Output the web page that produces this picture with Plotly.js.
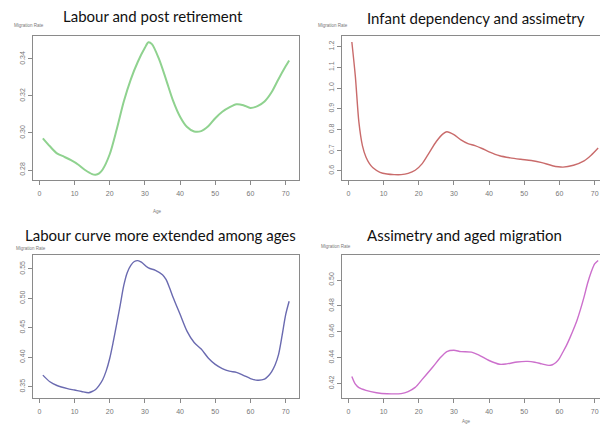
<!DOCTYPE html>
<html>
<head>
<meta charset="utf-8">
<script src="https://cdn.plot.ly/plotly-3.0.1.min.js"></script>
<style>
html,body{margin:0;padding:0;overflow:hidden;background:#fff;width:600px;height:427px;}
#chart{width:610px;height:427px;}
</style>
</head>
<body>
<div id="chart"></div>
<script>
// Panel titles
const titles = ["Labour and post retirement", "Infant dependency and assimetry",
                "Labour curve more extended among ages", "Assimetry and aged migration"];
const yLabel = "Migration Rate";
const xLabel = "Age";

// X ticks
const xTicks = [0, 10, 20, 30, 40, 50, 60, 70];

// Panel 1: Labour and post retirement
const ages1 = [1,3,5,7,9,11,13,15,16,17,18,20,22,24,26,28,30,31,32,34,36,38,40,42,44,46,48,50,52,54,56,58,60,62,64,66,68,70,71];
const rate1 = [0.2971,0.2928,0.2890,0.2872,0.2853,0.2830,0.2800,0.2778,0.2775,0.2782,0.2803,0.2885,0.3020,0.3170,0.3290,0.3385,0.3460,0.3490,0.3480,0.3400,0.3290,0.3175,0.3088,0.3032,0.3008,0.3010,0.3036,0.3080,0.3115,0.3138,0.3155,0.3150,0.3135,0.3145,0.3170,0.3220,0.3292,0.3360,0.3392];
const yTicks1 = [0.28, 0.30, 0.32, 0.34];
const yTickText1 = ["0.28", "0.30", "0.32", "0.34"];

// Panel 2: Infant dependency and assimetry
const ages2 = [1,2,3,4,5,6,7,9,11,13,15,17,19,21,23,25,27,28,30,32,34,36,38,40,43,46,49,52,55,58,61,64,67,69,71];
const rate2 = [1.222,1.055,0.835,0.722,0.667,0.635,0.615,0.593,0.585,0.582,0.582,0.588,0.603,0.635,0.688,0.742,0.780,0.789,0.775,0.750,0.732,0.722,0.708,0.692,0.673,0.663,0.656,0.650,0.640,0.625,0.618,0.627,0.648,0.675,0.710];
const yTicks2 = [0.6, 0.7, 0.8, 0.9, 1.0, 1.1, 1.2];
const yTickText2 = ["0.6", "0.7", "0.8", "0.9", "1.0", "1.1", "1.2"];

// Panel 3: Labour curve more extended among ages
const ages3 = [1,3,5,8,10,12,14,15,16,17,18,19,20,21,22,23,24,25,26,27,28,29,31,33,35,36,37,38,40,42,44,46,48,50,52,54,56,58,60,62,64,65,66,67,68,69,70,71];
const rate3 = [0.3698,0.3585,0.3522,0.3468,0.3445,0.3420,0.3400,0.3420,0.3455,0.3525,0.3620,0.3770,0.3980,0.4260,0.4570,0.4890,0.5220,0.5440,0.5560,0.5625,0.5640,0.5615,0.5515,0.5475,0.5400,0.5320,0.5180,0.5020,0.4730,0.4440,0.4250,0.4140,0.3990,0.3880,0.3810,0.3765,0.3745,0.3695,0.3640,0.3612,0.3630,0.3680,0.3755,0.3870,0.4050,0.4370,0.4720,0.4950];
const yTicks3 = [0.35, 0.40, 0.45, 0.50, 0.55];
const yTickText3 = ["0.35", "0.40", "0.45", "0.50", "0.55"];

// Panel 4: Assimetry and aged migration
const ages4 = [1,2,3,5,8,11,15,17,19,21,24,26,28,30,32,35,37,40,43,45,48,51,53,55,57,58,59,60,61,62,63,64,65,66,67,68,69,70,71];
const rate4 = [0.4255,0.4195,0.4168,0.4147,0.4129,0.4121,0.4122,0.4138,0.4170,0.4232,0.4328,0.4395,0.4447,0.4457,0.4447,0.4443,0.4422,0.4378,0.4349,0.4352,0.4367,0.4371,0.4365,0.4352,0.4340,0.4345,0.4362,0.4395,0.4444,0.4495,0.4555,0.4620,0.4690,0.4775,0.4870,0.4975,0.5060,0.5125,0.5152];
const yTicks4 = [0.42, 0.44, 0.46, 0.48, 0.50];
const yTickText4 = ["0.42", "0.44", "0.46", "0.48", "0.50"];

const W = 610, H = 427;
const px = (a, b) => [a / W, b / W];
const py = (top, bottom) => [1 - bottom / H, 1 - top / H];

const colors = ["#8fd28f", "#c96b6b", "#6a6ab0", "#cc6fcc"];
const data = [
  {x: ages1, y: rate1, xaxis: "x", yaxis: "y"},
  {x: ages2, y: rate2, xaxis: "x2", yaxis: "y2"},
  {x: ages3, y: rate3, xaxis: "x3", yaxis: "y3"},
  {x: ages4, y: rate4, xaxis: "x4", yaxis: "y4"}
].map((t, i) => Object.assign(t, {
  type: "scatter", mode: "lines",
  line: {color: colors[i], width: i === 0 ? 2 : 1.4, shape: "spline", smoothing: 0.8},
  hoverinfo: "skip", showlegend: false
}));

const axisCommon = {
  showline: true, mirror: true, linecolor: "#8a8a8a", linewidth: 1,
  showgrid: false, zeroline: false, ticks: "outside", ticklen: 4,
  tickcolor: "#8a8a8a", tickfont: {family: "Liberation Sans, Arial", size: 7, color: "#777"},
  fixedrange: true
};
function xa(domain, anchor) {
  return Object.assign({}, axisCommon, {domain, anchor, range: [-1.8, 73.8],
    tickmode: "array", tickvals: xTicks, ticktext: xTicks.map(String), ticklabelstandoff: 3});
}
function ya(domain, anchor, range, vals, text) {
  return Object.assign({}, axisCommon, {domain, anchor, range,
    tickmode: "array", tickvals: vals, ticktext: text, tickangle: -90});
}

const D1x = px(33, 299), D2x = px(342, 608);
const Dtop = py(36, 180), Dbot = py(255, 398);

const layout = {
  width: W, height: H,
  margin: {l: 0, r: 0, t: 0, b: 0},
  paper_bgcolor: "#fff", plot_bgcolor: "#fff",
  xaxis: xa(D1x, "y"), yaxis: ya(Dtop, "x", [0.2746, 0.3524], yTicks1, yTickText1),
  xaxis2: xa(D2x, "y2"), yaxis2: ya(Dtop, "x2", [0.556, 1.251], yTicks2, yTickText2),
  xaxis3: xa(D1x, "y3"), yaxis3: ya(Dbot, "x3", [0.331, 0.5735], yTicks3, yTickText3),
  xaxis4: xa(D2x, "y4"), yaxis4: ya(Dbot, "x4", [0.4088, 0.5194], yTicks4, yTickText4),
  annotations: []
};

const titlePos = [[153, 16], [476, 18], [160, 235], [464, 235]];
const ylabPos = [[29, 25.5], [333, 25.5], [31, 248], [336, 246]];
titles.forEach((t, i) => {
  layout.annotations.push({text: t, xref: "paper", yref: "paper",
    x: titlePos[i][0] / W, y: 1 - titlePos[i][1] / H, xanchor: "center", yanchor: "middle",
    showarrow: false, font: {family: "Lato, Open Sans", size: 15, color: "#111"}});
  layout.annotations.push({text: yLabel, xref: "paper", yref: "paper",
    x: ylabPos[i][0] / W, y: 1 - ylabPos[i][1] / H, xanchor: "center", yanchor: "middle",
    showarrow: false, font: {family: "Liberation Sans, Arial", size: 4.5, color: "#777"}});
});
[[157, 211], [466, 421]].forEach(p => {
  layout.annotations.push({text: xLabel, xref: "paper", yref: "paper",
    x: p[0] / W, y: 1 - p[1] / H, xanchor: "center", yanchor: "middle",
    showarrow: false, font: {family: "Liberation Sans, Arial", size: 4.5, color: "#777"}});
});

Plotly.newPlot("chart", data, layout, {staticPlot: true, displayModeBar: false});
</script>
</body>
</html>
